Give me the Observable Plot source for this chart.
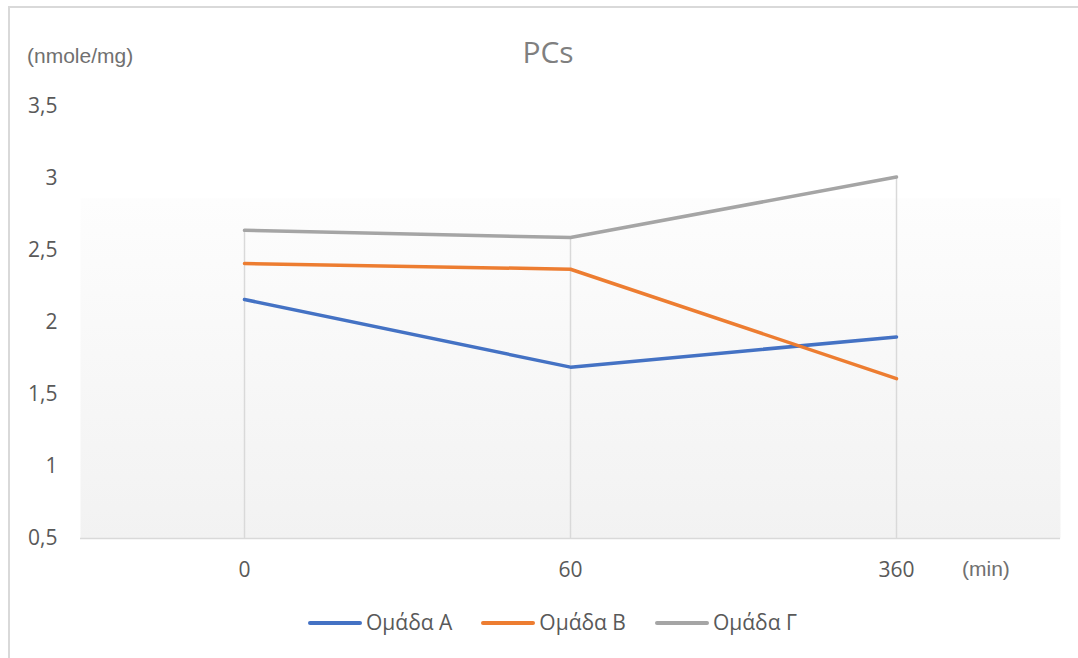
<!DOCTYPE html>
<html>
<head>
<meta charset="utf-8">
<script src="https://cdn.jsdelivr.net/npm/d3@7"></script>
<script src="https://cdn.jsdelivr.net/npm/@observablehq/plot@0.6"></script>
<style>
  body { margin: 0; background: #fff; overflow: hidden; }
  #chart { position: relative; width: 1078px; height: 658px; font-family: "Open Sans", sans-serif; overflow: hidden; }
  .box { position: absolute; left: 8px; top: 6px; width: 1200px; height: 800px; border: 2px solid #d9d9d9; box-sizing: border-box; }
  #plot { position: absolute; left: 0; top: 0; }
  .title { position: absolute; left: 548px; top: 37px; transform: translateX(-50%); font-size: 30px; line-height: 30px; color: #7f7f7f; white-space: nowrap; }
  .unit { position: absolute; font-family: "Liberation Sans", Arial, sans-serif; font-size: 21px; line-height: 21px; color: #707070; white-space: nowrap; }
  #legend { position: absolute; left: 308px; top: 612px; display: flex; align-items: center; font-size: 21px; line-height: 21px; color: #595959; }
  .item { display: flex; align-items: center; margin-right: 29px; white-space: nowrap; }
  .swatch { width: 54px; height: 4px; border-radius: 2px; margin-right: 4px; }
</style>
</head>
<body>
<div id="chart">
  <div class="box"></div>
  <div id="plot"></div>
  <div class="title">PCs</div>
  <div class="unit" style="left:27px; top:45px;">(nmole/mg)</div>
  <div class="unit" style="left:962px; top:558px;">(min)</div>
  <div id="legend"></div>
</div>
<script>
// Sampling times (min)
const times = ["0", "60", "360"];
// PCs concentration (nmole/mg) per group
const groupA = [2.16, 1.69, 1.90];
const groupB = [2.41, 2.37, 1.61];
const groupC = [2.64, 2.59, 3.01];
const seriesNames = ["Ομάδα Α", "Ομάδα Β", "Ομάδα Γ"];
const seriesColors = ["#4472C4", "#ED7D31", "#A5A5A5"];
const yTicks = [0.5, 1, 1.5, 2, 2.5, 3, 3.5];

const seriesValues = [groupA, groupB, groupC];
const rows = seriesValues.flatMap((vals, s) =>
  vals.map((v, i) => ({ time: times[i], value: v, group: seriesNames[s] }))
);
// Drop lines run from the axis up to the highest series value at each time
const dropLines = times.map((t, i) => ({ time: t, top: d3.max(seriesValues, vals => vals[i]) }));

const chart = Plot.plot({
  width: 1078,
  height: 600,
  marginLeft: 80,
  marginRight: 18,
  marginTop: 106,
  marginBottom: 62,
  style: {
    fontFamily: '"Open Sans", sans-serif',
    fontSize: "21px",
    color: "#595959",
    background: "transparent",
    overflow: "visible"
  },
  x: { type: "point", domain: times, padding: 0.5, label: null, tickSize: 0, tickPadding: 24 },
  y: {
    domain: [0.5, 3.5],
    ticks: yTicks,
    tickFormat: d => String(d).replace(".", ","),
    tickSize: 0,
    tickPadding: 23,
    label: null
  },
  color: { domain: seriesNames, range: seriesColors },
  marks: [
    Plot.frame({ fill: "url(#plotAreaFill)", stroke: "none" }),
    Plot.ruleX(dropLines, { x: "time", y1: 0.5, y2: "top", stroke: "#d9d9d9", strokeWidth: 1.5 }),
    Plot.ruleY([0.5], { stroke: "#d9d9d9", strokeWidth: 1.5 }),
    Plot.line(rows, {
      x: "time", y: "value", z: "group", stroke: "group",
      strokeWidth: 3.5, strokeLinecap: "round", strokeLinejoin: "round"
    })
  ]
});

// Soft vertical gradient behind the plot area (white at the top, light grey at the axis)
const defs = d3.select(chart).insert("defs", ":first-child");
const grad = defs.append("linearGradient")
  .attr("id", "plotAreaFill")
  .attr("x1", 0).attr("y1", 0).attr("x2", 0).attr("y2", 1);
grad.append("stop").attr("offset", "0%").attr("stop-color", "#ffffff");
grad.append("stop").attr("offset", "21%").attr("stop-color", "#ffffff");
grad.append("stop").attr("offset", "21.5%").attr("stop-color", "#fdfdfd");
grad.append("stop").attr("offset", "100%").attr("stop-color", "#f2f2f2");

document.getElementById("plot").appendChild(chart);

// Legend with line swatches
const legend = d3.select("#legend");
seriesNames.forEach((name, i) => {
  const item = legend.append("div").attr("class", "item");
  item.append("div").attr("class", "swatch").style("background", seriesColors[i]);
  item.append("span").text(name);
});
</script>
</body>
</html>
